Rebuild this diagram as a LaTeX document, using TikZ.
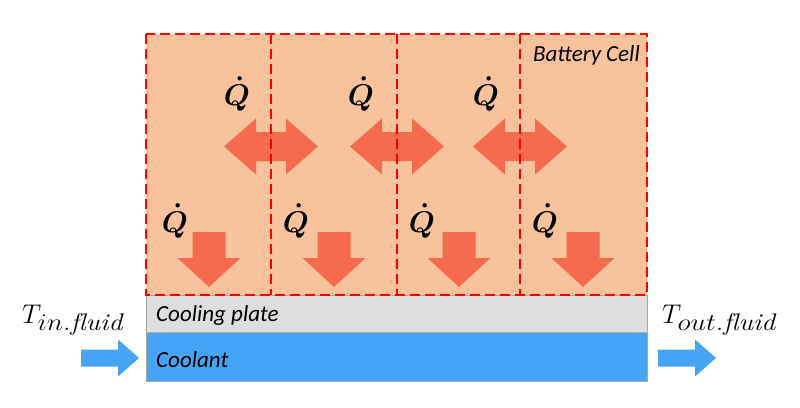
\RequirePackage{fix-cm}
\documentclass[tikz,border=0pt]{standalone}
\usepackage{fontspec}
\newfontfamily\cellfont{Carlito}
\usetikzlibrary{positioning}
\definecolor{cellorange}{HTML}{F8C39C}
\definecolor{heatred}{HTML}{F66B4F}
\definecolor{plategray}{HTML}{DDDEE0}
\definecolor{coolblue}{HTML}{45A4F6}
\definecolor{edgegray}{HTML}{A8A8A8}
\newcommand{\subfluid}[1]{\scalebox{1.15}[1]{\fontsize{24}{24}\selectfont$#1.\mathit{fluid}$}}
\begin{document}
\begin{tikzpicture}[
        x=1pt, y=-1pt,
        celldash/.style={draw=red, line width=2.5pt, dash pattern=on 10pt off 5pt},
        qlabel/.style={font=\fontsize{30}{30}\selectfont\boldmath, inner sep=0pt},
        boxtext/.style={font=\cellfont\itshape\fontsize{23}{26}\selectfont, inner sep=0pt, anchor=base west},
        ttext/.style={font=\fontsize{27}{30}\selectfont, inner sep=0pt, anchor=base west},
        heatx/.pic={\fill[heatred] (-47,0) -- (-15,-28) -- (-15,-14.5) -- (15,-14.5) -- (15,-28)
            -- (47,0) -- (15,28) -- (15,14.5) -- (-15,14.5) -- (-15,28) -- cycle;},
        heatdown/.pic={\fill[heatred] (-16.5,0) -- (16.5,0) -- (16.5,26) -- (31.5,26)
            -- (0,55) -- (-31.5,26) -- (-16.5,26) -- cycle;},
        flowarrow/.pic={\fill[coolblue] (-29,-8.5) -- (8,-8.5) -- (8,-18.5) -- (29,0)
            -- (8,18.5) -- (8,8.5) -- (-29,8.5) -- cycle;},
    ]
    \useasboundingbox (0,0) rectangle (800,407);

    % cells, plate and coolant
    \fill[cellorange] (146,34) rectangle (647,295);
    \filldraw[fill=plategray, draw=edgegray, thin] (146,295) rectangle (647,332);
    \filldraw[fill=coolblue, draw=edgegray, thin] (146,332) rectangle (647,381);

    % heat flow arrows
    \foreach \xd [count=\i] in {271,397,520}
        \pic (hx\i) at (\xd,146.5) {heatx};
    \foreach \xc [count=\i] in {209,334,459,583}
        \pic (hd\i) at (\xc,232) {heatdown};
    \pic (inflow) at (110,358) {flowarrow};
    \pic (outflow) at (687,358) {flowarrow};

    % dashed cell borders
    \draw[celldash] (146,34) rectangle (647,295);
    \foreach \xd in {271,397,520}
        \draw[celldash, line width=2pt] (\xd,34) -- (\xd,295);

    % labels
    \foreach \xq [count=\i] in {237,361,486}
        \node[qlabel] (qx\i) at (\xq,94) {$\dot{Q}$};
    \foreach \xq [count=\i] in {175,296,422,545}
        \node[qlabel] (qd\i) at (\xq,221) {$\dot{Q}$};
    \node[boxtext, anchor=base east] (cell) at (640,61) {Battery Cell};
    \node[boxtext] (plate) at (156,321) {Cooling plate};
    \node[boxtext] (coolant) at (156,367) {Coolant};
    \node[ttext] (tin) at (22,323) {$T_{\subfluid{in}}$};
    \node[ttext] (tout) at (662,323) {$T_{\subfluid{out}}$};
\end{tikzpicture}
\end{document}
